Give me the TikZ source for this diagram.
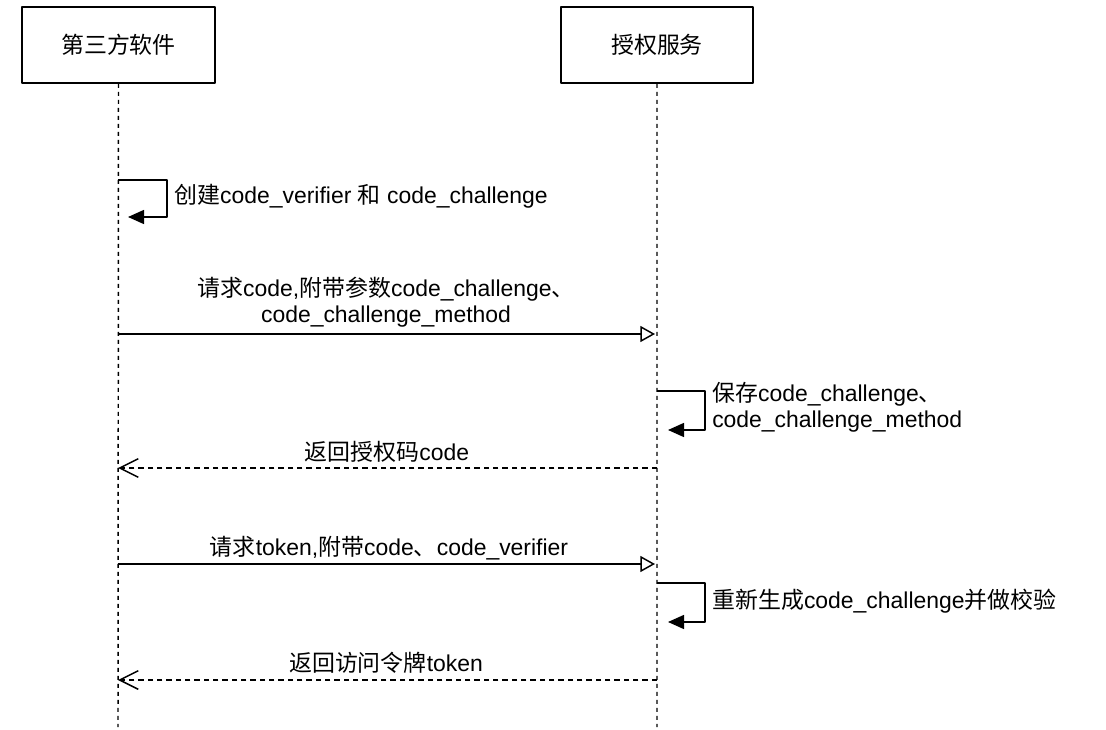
\documentclass[tikz,border=0pt]{standalone}
\usepackage{fontspec}
\setmainfont{Liberation Sans}
\newfontfamily\cjk{Noto Sans CJK SC}
\newcommand\zh[1]{{\cjk #1}}
\usetikzlibrary{arrows.meta}

\begin{document}
\begin{tikzpicture}[x=0.75pt,y=-0.75pt,line join=round,font=\fontsize{17.2}{19.5}\selectfont,
		actor/.style={draw,line width=1.3pt,minimum width=144.5pt,minimum height=57pt,inner sep=0pt},
		lifeline/.style={line width=1.1pt,dash pattern=on 3pt off 3pt},
		call/.style={line width=1.1pt,-{Triangle[open,length=11pt,width=12pt,line width=1.1pt]}},
		reply/.style={line width=1.1pt,dash pattern=on 4pt off 3pt,-{Straight Barb[length=14pt,width=14pt,line width=1.1pt]}},
		selfcall/.style={line width=1.1pt,-{Triangle[length=12pt,width=10.5pt]}},
		msg/.style={inner sep=0pt}]
	\useasboundingbox (0,0) rectangle (1106,730);
	% participants
	\node[actor] (app) at (118.5,45) {\zh{第三方软件}};
	\node[actor] (auth) at (657,45) {\zh{授权服务}};
	\path
	(118,727) coordinate (appEnd)
	(657,727) coordinate (authEnd)
	(118,180) coordinate (A1) (167,180) coordinate (A1r) (167,217) coordinate (A1b) (128,217) coordinate (A1e)
	(118,334) coordinate (A2) (655,334) coordinate (B2)
	(657,391) coordinate (B3) (705,391) coordinate (B3r) (705,430) coordinate (B3b) (668,430) coordinate (B3e)
	(657,468) coordinate (B4) (118,468) coordinate (A4)
	(118,564) coordinate (A5) (655,564) coordinate (B5)
	(657,583) coordinate (B6) (705,583) coordinate (B6r) (705,622) coordinate (B6b) (668,622) coordinate (B6e)
	(657,680) coordinate (B7) (118,680) coordinate (A7)
	;
	\draw[lifeline] (app.south)--(appEnd) (auth.south)--(authEnd);
	% messages
	\draw[selfcall] (A1)--(A1r)--(A1b)--(A1e);
	\draw[call] (A2)--(B2);
	\draw[selfcall] (B3)--(B3r)--(B3b)--(B3e);
	\draw[reply] (B4)--(A4);
	\draw[call] (A5)--(B5);
	\draw[selfcall] (B6)--(B6r)--(B6b)--(B6e);
	\draw[reply] (B7)--(A7);
	% labels
	\node[msg,anchor=west] (l1) at (174,196) {\zh{创建}code\_verifier \zh{和} code\_challenge};
	\node[msg,align=center] (l2) at (386,302) {\zh{请求}code,\zh{附带参数}code\_challenge\zh{、}\\code\_challenge\_method};
	\node[msg,anchor=west,align=left] (l3) at (712,407.5) {\zh{保存}code\_challenge\zh{、}\\code\_challenge\_method};
	\node[msg] (l4) at (387,452) {\zh{返回授权码}code};
	\node[msg] (l5) at (389,548) {\zh{请求}token,\zh{附带}code\zh{、}code\_verifier};
	\node[msg,anchor=west] (l6) at (712,601) {\zh{重新生成}code\_challenge\zh{并做校验}};
	\node[msg] (l7) at (386,663) {\zh{返回访问令牌}token};
\end{tikzpicture}
\end{document}
